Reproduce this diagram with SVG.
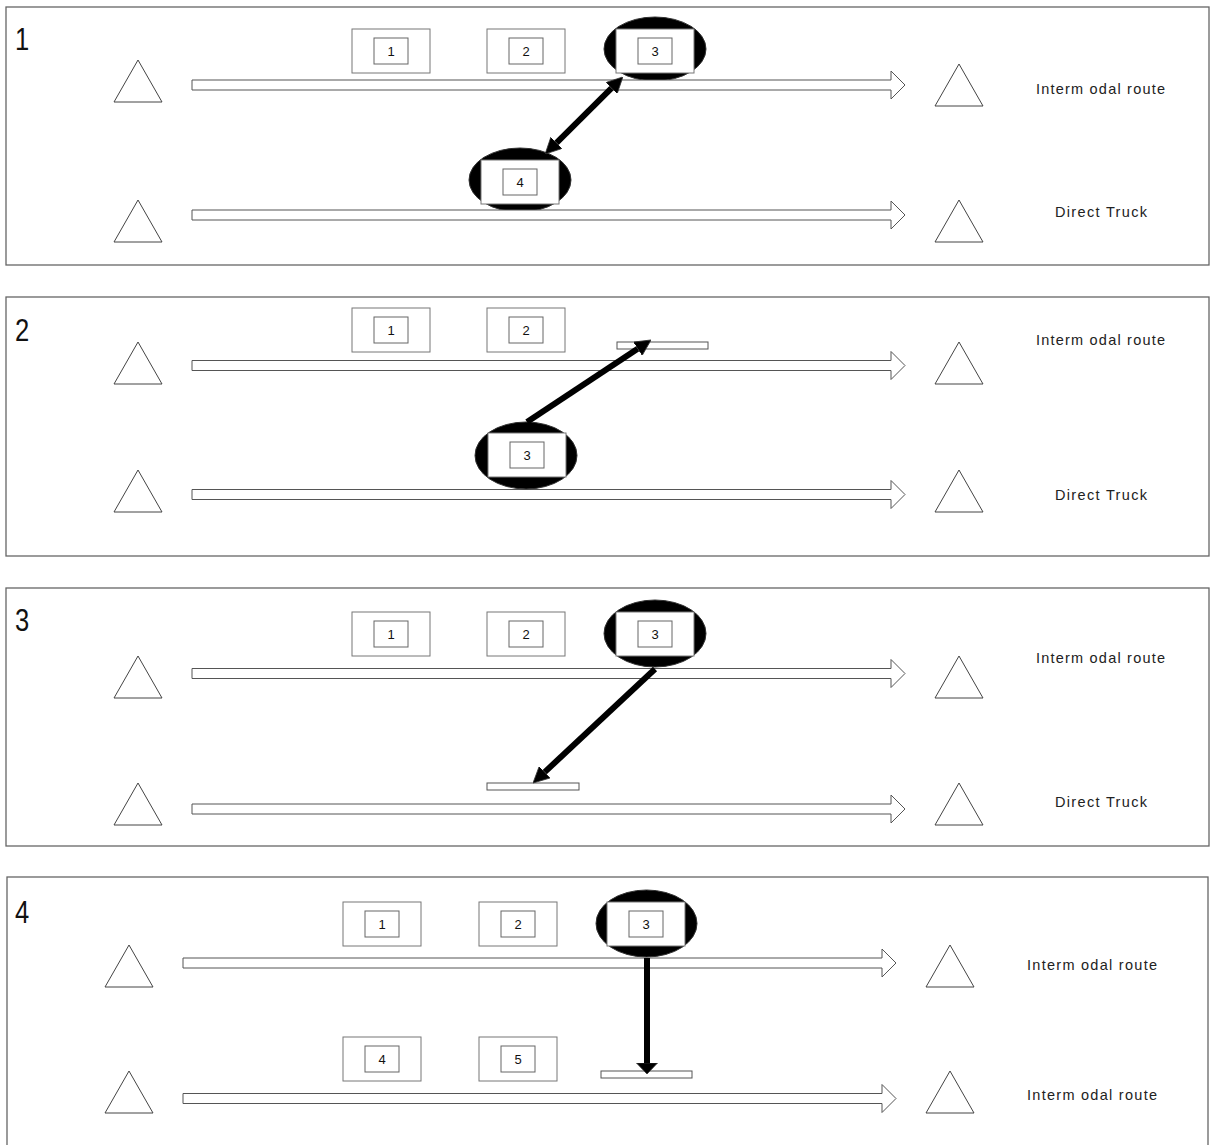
<svg xmlns="http://www.w3.org/2000/svg" xmlns:xlink="http://www.w3.org/1999/xlink" width="1214" height="1145" viewBox="0 0 1214 1145">
<style>
.panel{fill:#fff;stroke:#666;stroke-width:1.3}
.tri{fill:#fff;stroke:#444;stroke-width:1}
.route{fill:#fff;stroke:#555;stroke-width:1}
.ob{fill:#fff;stroke:#777;stroke-width:1}
.ib{fill:#fff;stroke:#666;stroke-width:1}
.ell{fill:#000;stroke:#333;stroke-width:1}
.bar{fill:#fff;stroke:#555;stroke-width:1}
.conn{stroke:#000;stroke-width:6;fill:none}
.pl{font-family:"Liberation Sans",Arial,sans-serif;font-size:32px;fill:#111}
.num{font-family:"Liberation Sans",Arial,sans-serif;font-size:13px;fill:#111;text-anchor:middle}
.lab{font-family:"Liberation Sans",Arial,sans-serif;font-size:14.5px;fill:#222}
</style>
<defs>
<path id="routeArrow" class="route" d="M0,-5 H699 V-14 L713,0 L699,14 V5 H0 Z"/>
<path id="triangle" class="tri" d="M0,0 L24,42 L-24,42 Z"/>
<g id="box"><rect class="ob" x="0" y="0" width="78" height="44"/><rect class="ib" x="22" y="9" width="34" height="26"/></g>
<marker id="head" viewBox="0 -8 16 16" refX="0" refY="0" markerWidth="16" markerHeight="16" markerUnits="userSpaceOnUse" orient="auto-start-reverse"><path d="M0,-8 L16,0 L0,8 Z" fill="#000" stroke="#333" stroke-width="0.8"/></marker>
<marker id="headWide" viewBox="0 -11 11 22" refX="0" refY="0" markerWidth="11" markerHeight="22" markerUnits="userSpaceOnUse" orient="auto"><path d="M0,-10.5 L11,0 L0,10.5 Z" fill="#000" stroke="#333" stroke-width="0.8"/></marker>
</defs>

<!-- Panel frames -->
<g id="frames">
<rect class="panel" x="6" y="7" width="1203" height="258"/>
<rect class="panel" x="6" y="297" width="1203" height="259"/>
<rect class="panel" x="6" y="588" width="1203" height="258"/>
<rect class="panel" x="7" y="877" width="1201" height="275"/>
</g>

<!-- Panel 1 -->
<g id="panel1">
<text class="pl" transform="translate(15,50) scale(0.8,1)">1</text>
<use href="#triangle" x="138" y="60"/>
<use href="#triangle" x="138" y="200"/>
<use href="#triangle" x="959" y="64"/>
<use href="#triangle" x="959" y="200"/>
<text class="lab" x="1036" y="94" textLength="129" lengthAdjust="spacing">Interm odal route</text>
<text class="lab" x="1055" y="217" textLength="92" lengthAdjust="spacing">Direct Truck</text>
<g id="p1-n1"><use href="#box" x="352" y="29"/><text class="num" x="391" y="56">1</text></g>
<g id="p1-n2"><use href="#box" x="487" y="29"/><text class="num" x="526" y="56">2</text></g>
<g id="p1-n3"><ellipse class="ell" cx="655" cy="49" rx="51" ry="32"/><use href="#box" x="616" y="29"/><text class="num" x="655" y="56">3</text></g>
<g id="p1-n4"><ellipse class="ell" cx="520" cy="180" rx="51" ry="32"/><use href="#box" x="481" y="160"/><text class="num" x="520" y="187">4</text></g>
<use href="#routeArrow" x="192" y="85"/>
<use href="#routeArrow" x="192" y="215"/>
</g>

<!-- Panel 2 -->
<g id="panel2">
<text class="pl" transform="translate(15,341) scale(0.8,1)">2</text>
<use href="#triangle" x="138" y="342"/>
<use href="#triangle" x="138" y="470"/>
<use href="#triangle" x="959" y="342"/>
<use href="#triangle" x="959" y="470"/>
<text class="lab" x="1036" y="345" textLength="129" lengthAdjust="spacing">Interm odal route</text>
<text class="lab" x="1055" y="500" textLength="92" lengthAdjust="spacing">Direct Truck</text>
<g id="p2-n1"><use href="#box" x="352" y="308"/><text class="num" x="391" y="335">1</text></g>
<g id="p2-n2"><use href="#box" x="487" y="308"/><text class="num" x="526" y="335">2</text></g>
<rect id="p2-slot" class="bar" x="617" y="342" width="91" height="7"/>
<use href="#routeArrow" x="192" y="365.5"/>
<use href="#routeArrow" x="192" y="494.5"/>
<g id="p2-n3"><ellipse class="ell" cx="526" cy="455.5" rx="51" ry="33.5"/><use href="#box" x="488" y="433"/><text class="num" x="527" y="460">3</text></g>
</g>

<!-- Panel 3 -->
<g id="panel3">
<text class="pl" transform="translate(15,631) scale(0.8,1)">3</text>
<use href="#triangle" x="138" y="656"/>
<use href="#triangle" x="138" y="783"/>
<use href="#triangle" x="959" y="656"/>
<use href="#triangle" x="959" y="783"/>
<text class="lab" x="1036" y="663" textLength="129" lengthAdjust="spacing">Interm odal route</text>
<text class="lab" x="1055" y="807" textLength="92" lengthAdjust="spacing">Direct Truck</text>
<g id="p3-n1"><use href="#box" x="352" y="612"/><text class="num" x="391" y="639">1</text></g>
<g id="p3-n2"><use href="#box" x="487" y="612"/><text class="num" x="526" y="639">2</text></g>
<g id="p3-n3"><ellipse class="ell" cx="655" cy="633.5" rx="51" ry="33.5"/><use href="#box" x="616" y="612"/><text class="num" x="655" y="639">3</text></g>
<rect id="p3-slot" class="bar" x="487" y="783" width="92" height="7"/>
<use href="#routeArrow" x="192" y="673.5"/>
<use href="#routeArrow" x="192" y="809"/>
</g>

<!-- Panel 4 -->
<g id="panel4">
<text class="pl" transform="translate(15,923) scale(0.8,1)">4</text>
<use href="#triangle" x="129" y="945"/>
<use href="#triangle" x="129" y="1071"/>
<use href="#triangle" x="950" y="945"/>
<use href="#triangle" x="950" y="1071"/>
<text class="lab" x="1027" y="970" textLength="130" lengthAdjust="spacing">Interm odal route</text>
<text class="lab" x="1027" y="1100" textLength="130" lengthAdjust="spacing">Interm odal route</text>
<g id="p4-n1"><use href="#box" x="343" y="902"/><text class="num" x="382" y="929">1</text></g>
<g id="p4-n2"><use href="#box" x="479" y="902"/><text class="num" x="518" y="929">2</text></g>
<g id="p4-n3"><ellipse class="ell" cx="646.5" cy="923.5" rx="50.5" ry="33.5"/><use href="#box" x="607" y="902"/><text class="num" x="646" y="929">3</text></g>
<g id="p4-n4"><use href="#box" x="343" y="1037"/><text class="num" x="382" y="1064">4</text></g>
<g id="p4-n5"><use href="#box" x="479" y="1037"/><text class="num" x="518" y="1064">5</text></g>
<rect id="p4-slot" class="bar" x="601" y="1071" width="91" height="7"/>
<use href="#routeArrow" x="183" y="963"/>
<use href="#routeArrow" x="183" y="1098.5"/>
</g>

<!-- Connectors -->
<g id="connectors">
<line class="conn" x1="611.5" y1="88.2" x2="556.5" y2="142.8" marker-start="url(#head)" marker-end="url(#head)"/>
<line class="conn" x1="527" y1="422" x2="637.7" y2="348.8" marker-end="url(#head)"/>
<line class="conn" x1="655" y1="669" x2="544.7" y2="772.1" marker-end="url(#head)"/>
<line class="conn" x1="647" y1="958" x2="647" y2="1063" stroke-width="7" marker-end="url(#headWide)"/>
</g>
</svg>
